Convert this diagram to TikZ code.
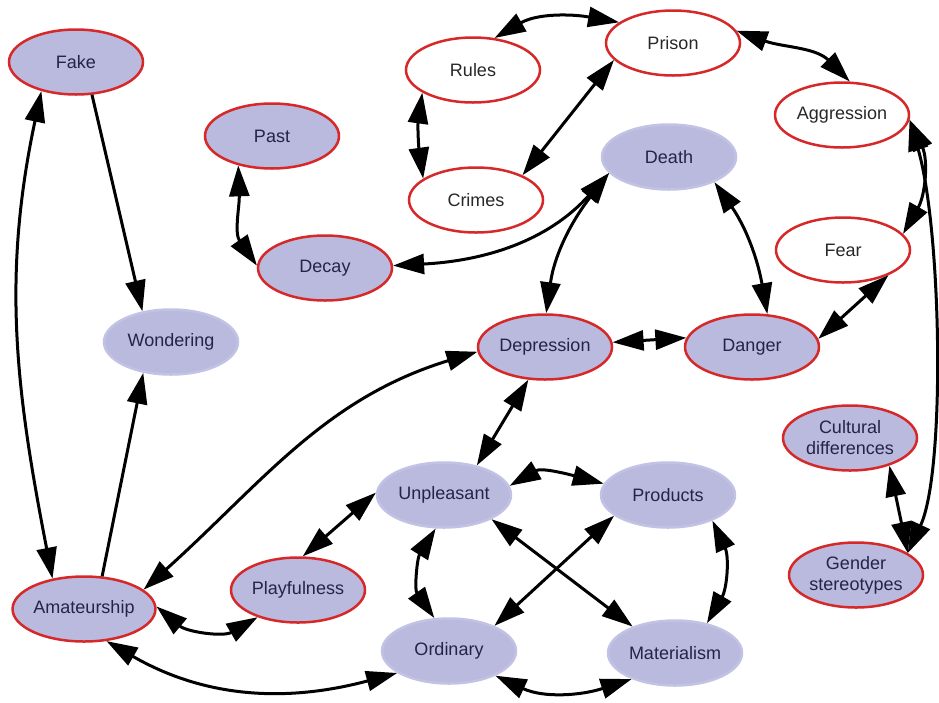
\documentclass[tikz,border=0pt]{standalone}
\usepackage{fontspec}
\setmainfont{Liberation Sans}
\usetikzlibrary{arrows.meta,shapes.geometric}
\definecolor{lav}{RGB}{186,186,222}
\definecolor{lavedge}{RGB}{194,194,228}
\definecolor{nodered}{RGB}{214,40,40}
\definecolor{navy}{RGB}{36,36,72}
\definecolor{gtext}{RGB}{40,40,40}
\tikzset{bigtip/.tip={Triangle[length=31pt,width=20pt]}}
\begin{document}
\begin{tikzpicture}[x=1pt,y=1pt,
  base/.style={ellipse, minimum width=134pt, minimum height=65pt, inner sep=0pt,
    line width=2.5pt, font=\fontsize{18}{21}\selectfont, align=center},
  rl/.style={base, fill=lav, draw=nodered, text=navy},
  rw/.style={base, fill=white, draw=nodered, text=gtext},
  pl/.style={base, fill=lav, draw=lavedge, text=navy},
  conn/.style={line width=3pt, black},
  both/.style={conn, {bigtip}-{bigtip}},
  one/.style={conn, -{bigtip}},
]
\useasboundingbox (0,0) rectangle (939,-702);

\node[rl] (fake) at (76,-62) {Fake};
\node[rl] (past) at (272,-136) {Past};
\node[rw] (rules) at (473,-70) {Rules};
\node[rw] (prison) at (673,-43) {Prison};
\node[rw] (aggr) at (842,-115) {Aggression};
\node[pl] (death) at (669,-157) {Death};
\node[rw] (crimes) at (476,-200) {Crimes};
\node[rl] (decay) at (325,-268) {Decay};
\node[rw] (fear) at (843,-250) {Fear};
\node[pl] (wond) at (171,-342) {Wondering};
\node[rl] (depr) at (545,-347) {Depression};
\node[rl] (danger) at (752,-347) {Danger};
\node[rl] (cult) at (850,-438) {Cultural\\differences};
\node[pl] (unpl) at (444,-495) {Unpleasant};
\node[pl] (prod) at (668,-495) {Products};
\node[rl] (gender) at (856,-575) {Gender\\stereotypes};
\node[rl] (amat) at (84,-609) {Amateurship};
\node[rl] (play) at (298,-590) {Playfulness};
\node[pl] (ord) at (449,-651) {Ordinary};
\node[pl] (mat) at (675,-653) {Materialism};

\draw[both] (fake.220) to[out=258,in=101] (amat.136);
\draw[one] (fake.296) -- (wond.133);
\draw[one] (amat.61) -- (wond.228);
\draw[both] (past.221) to[out=272,in=125] (decay.178);
\draw[both] (decay.2) to[out=3,in=228] (death.195);
\draw[both] (depr.88) to[out=82,in=232] (death.195);
\draw[both] (death.331) to[out=305,in=100] (danger.65);
\draw[both] (depr.4) -- (danger.172);
\draw[both] (danger.7) -- (fear.331);
\draw[both] (rules.56) to[out=30,in=170] (prison.159);
\draw[both] (rules.204) to[out=262,in=98] (crimes.158);
\draw[both] (crimes.28) -- (prison.196);
\draw[both] (prison.11) to[out=340,in=135] (aggr.77);
\draw[both] (aggr.356) to[out=295,in=60] (fear.15);
\draw[both] (aggr.356) .. controls +(32,-110) and +(38,82) .. (gender.23);
\draw[both] (cult.325) -- (gender.23);
\draw[both] (amat.18) to[out=42,in=197] (depr.184);
\draw[both] (depr.243) -- (unpl.42);
\draw[both] (unpl.178) -- (play.82);
\draw[both] (unpl.8) to[out=30,in=165] (prod.170);
\draw[both] (unpl.256) to[out=238,in=125] (ord.114);
\draw[both] (unpl.333) -- (mat.148);
\draw[both] (prod.201) -- (ord.29);
\draw[both] (prod.330) to[out=295,in=60] (mat.43);
\draw[both] (ord.332) to[out=335,in=198] (mat.211);
\draw[both] (amat.2) to[out=320,in=210] (play.214);
\draw[both] (amat.305) to[out=330,in=195] (ord.203);
\end{tikzpicture}
\end{document}
